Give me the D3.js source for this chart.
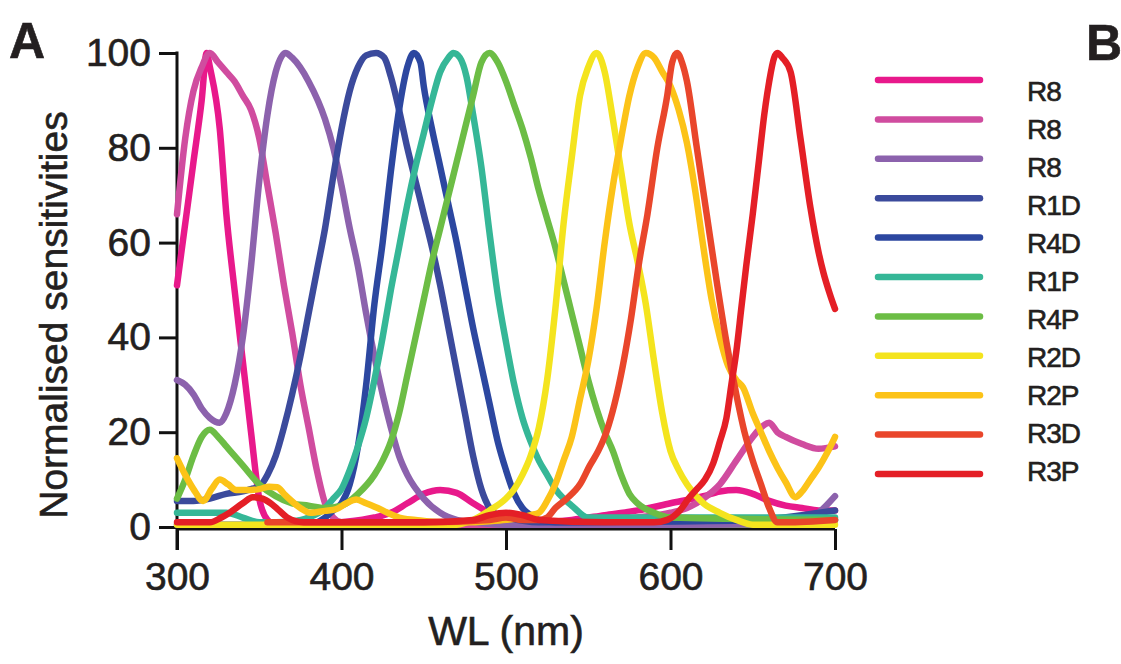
<!DOCTYPE html>
<html>
<head>
<meta charset="utf-8">
<script src="https://cdn.jsdelivr.net/npm/d3@7"></script>
<style>
  html, body { margin: 0; padding: 0; background: #fff; }
  svg text { font-family: 'Liberation Sans', Arial, sans-serif; fill: #231f20; stroke: #231f20; stroke-width: 0.6px; }
</style>
</head>
<body>
<div id="chart-area"></div>
<script>
// Photoreceptor sensitivity curves, [wavelength nm, normalised sensitivity]
const r8a = [[300,51],[305,64],[310,77],[315,90],[318,100],[320,97],[326,84],[330,66],[335,50],[340,35],[345,20],[350,6],[355,1.5],[360,0.5],[380,0.5],[400,1],[420,2],[430,3],[440,5],[450,7],[460,7.8],[470,7.2],[480,5],[490,3],[500,2],[520,1],[540,1.5],[560,2.5],[580,3.5],[600,5],[620,6.5],[630,7.5],[640,7.8],[650,7],[660,5.5],[670,4.5],[680,4],[690,3.5],[700,3.5]];
const r8b = [[300,66],[305,82],[310,92],[315,97],[320,100],[325,98],[330,96],[335,94],[340,91],[345,88],[350,82],[355,72],[360,62],[365,51],[370,41],[375,30],[380,21],[385,12],[390,5],[395,2],[400,1],[450,0.5],[500,0.5],[550,1],[580,2],[600,3],[610,4],[620,6],[630,9],[640,14],[650,19],[655,21],[660,22],[665,20],[670,19],[680,17.5],[690,16.5],[700,17]];
const r8c = [[300,31],[305,30],[310,28],[315,25],[320,23],[326,22],[330,24],[335,30],[340,40],[345,55],[350,73],[355,87],[360,96],[366,100],[370,99],[380,94],[390,86],[395,80],[400,72],[405,63],[410,55],[415,45],[420,36],[425,28],[430,21],[435,15],[440,11],[450,6],[460,3],[470,1.5],[480,1],[500,0.5],[600,0.5],[680,1],[690,3],[700,6.5]];
const r1d = [[300,5.5],[310,5.5],[320,6],[330,7],[340,7.5],[345,8],[350,8.5],[355,11],[360,15],[365,21],[370,28],[375,36],[380,45],[385,54],[390,63],[395,74],[400,84],[405,92],[410,97],[415,99.5],[421,100],[426,99],[430,95],[435,88],[440,80],[445,73],[450,66],[455,59],[460,51],[465,42],[470,33],[475,24],[480,15],[485,8],[490,4],[495,2.5],[500,2],[520,1],[650,1.5],[680,2.5],[700,3.5]];
const r4d = [[300,0.5],[380,0.5],[390,2],[395,3.5],[400,5],[405,9],[410,17],[415,30],[420,47],[425,60],[430,75],[435,88],[440,97],[444,100],[448,98],[450,93],[455,84],[460,76],[465,68],[470,60],[475,51],[480,42],[485,34],[490,26],[495,18],[500,12],[505,7],[510,4],[515,2.5],[520,1.5],[530,1],[700,1.5]];
const r1p = [[300,3],[310,3],[320,3],[330,3],[340,2],[350,1],[360,1],[370,1.2],[380,2],[390,4],[395,6],[400,8],[405,12],[410,17],[415,23],[420,31],[425,40],[430,50],[435,59],[440,68],[445,76],[450,83],[455,90],[460,96],[465,99],[468,100],[472,99],[476,95],[480,87],[485,76],[490,62],[495,49],[500,39],[505,30],[510,23],[515,18],[520,14],[525,11],[530,8],[535,6],[540,4.5],[550,2],[560,2],[700,2]];
const r4p = [[300,6],[305,10],[310,15],[315,19],[320,20.5],[325,19],[330,17],[335,15],[340,13],[350,9],[360,6.5],[370,5],[380,4.5],[390,4],[400,4.5],[410,7],[420,11],[425,14],[430,18],[435,24],[440,32],[445,40],[450,48],[455,56],[460,63],[465,70],[470,77],[475,84],[480,91],[485,98],[490,100],[495,98],[500,94],[505,89],[510,84],[515,78],[520,71],[525,65],[530,59],[535,52],[540,45],[545,38],[550,31],[555,25],[560,20],[565,16],[570,11],[575,7],[580,5],[590,3],[600,2],[700,1.5]];
const r2d = [[300,0.5],[470,0.5],[480,1.5],[490,3.5],[500,6],[505,8],[510,11],[515,15],[520,21],[525,31],[530,46],[535,64],[540,78],[545,91],[550,97],[555,100],[560,96],[565,86],[570,75],[575,64],[580,56],[585,47],[590,35],[595,24],[600,16],[605,12],[610,9],[620,5],[630,3],[640,1.5],[650,0.5],[700,0.5]];
const r2p = [[300,14.5],[305,11],[310,8],[316,5.5],[321,8],[326,10],[331,9],[336,7.8],[345,7.8],[350,8],[356,8.5],[361,8.4],[365,7],[369,5.7],[375,4],[381,3],[390,3.4],[397,3.8],[403,5],[409,5.8],[415,5],[422,4],[428,3],[435,2],[445,1.5],[460,1],[480,1],[490,1.2],[500,1.5],[510,2],[515,2.5],[520,3],[525,5.5],[530,9],[535,14],[540,19],[545,27],[550,35],[555,46],[560,60],[565,72],[570,82],[575,91],[580,97],[585,100],[590,99],[595,96],[600,93],[605,88],[610,81],[615,71],[620,59],[625,48],[630,40],[635,34],[640,31],[644,29.5],[650,24],[655,20],[660,16],[665,12.5],[670,9.5],[676,6.3],[680,7.5],[685,10],[690,12.5],[695,15.5],[700,19]];
const r3d = [[355,1],[400,1],[450,1],[490,1.5],[500,2],[510,1.5],[520,1.5],[525,2],[530,4],[537,6],[545,9],[551,13],[556,16],[561,20],[566,26],[571,34],[576,44],[581,56],[586,66],[592,80],[598,91],[601,98],[604,100],[607,98],[610,94],[616,80],[622,66],[628,52],[634,39],[640,28],[645,20],[650,14],[655,9],[660,4],[665,1],[670,1],[700,1.5]];
const r3p = [[300,1],[320,1],[327,2],[332,3],[340,5],[346,6.3],[352,6],[357,5],[362,3.5],[367,2],[377,1],[400,1],[450,1],[480,1.5],[490,2.5],[500,3],[510,2.5],[520,1.5],[560,1],[590,1],[598,1.5],[606,3.6],[611,6],[616,8],[621,10],[626,13.5],[630,18],[634,23],[637,30],[640,37],[643,46],[646,55],[650,66],[654,78],[657,87],[660,94],[663,99],[665,100],[668,99],[673,96],[679,82],[685,67.5],[690,58],[693,53.6],[697,49],[700,46]];

const seriesNames = ['R8', 'R8', 'R8', 'R1D', 'R4D', 'R1P', 'R4P', 'R2D', 'R2P', 'R3D', 'R3P'];
const seriesValues = [r8a, r8b, r8c, r1d, r4d, r1p, r4p, r2d, r2p, r3d, r3p];
const seriesColors = ['#e8198b', '#d04c9f', '#8c62ad', '#3b4a9c', '#2c47a0', '#35b797',
  '#6cbd45', '#f4e41e', '#fcc318', '#e9462b', '#e41f26'];

const xTicks = [300, 400, 500, 600, 700];
const yTicks = [0, 20, 40, 60, 80, 100];

const width = 1121;
const height = 664;

const svg = d3.select('#chart-area')
  .append('svg')
  .attr('width', width)
  .attr('height', height);

// Scales
const xScale = d3.scaleLinear().domain([300, 700]).range([177, 835]);
const yScale = d3.scaleLinear().domain([0, 100]).range([527, 53]);

// Axes
const yAxis = d3.axisLeft(yScale)
  .tickValues(yTicks)
  .tickSize(18)
  .tickPadding(8);
const xAxis = d3.axisBottom(xScale)
  .tickValues(xTicks)
  .tickSize(21)
  .tickPadding(12);

const gY = svg.append('g')
  .attr('transform', `translate(${xScale(300)}, 0)`)
  .call(yAxis);
const gX = svg.append('g')
  .attr('transform', `translate(0, ${yScale(0) + 2})`)
  .call(xAxis);

[gX, gY].forEach((g) => {
  g.select('.domain').remove();
  g.selectAll('line').attr('stroke', '#111').attr('stroke-width', 3);
  g.selectAll('text')
    .attr('fill', '#231f20')
    .style('font-size', '39px');
});

// y spine runs down to the x tick level
svg.append('line')
  .attr('x1', xScale(300)).attr('x2', xScale(300))
  .attr('y1', yScale(100) - 1.5).attr('y2', yScale(0) + 23)
  .attr('stroke', '#111').attr('stroke-width', 3);
svg.append('line')
  .attr('x1', xScale(300)).attr('x2', xScale(700))
  .attr('y1', yScale(0) + 2).attr('y2', yScale(0) + 2)
  .attr('stroke', '#111').attr('stroke-width', 3);

// Curves
const line = d3.line()
  .x((d) => xScale(d[0]))
  .y((d) => yScale(d[1]))
  .curve(d3.curveMonotoneX);

svg.append('g')
  .selectAll('path')
  .data(seriesValues)
  .enter()
  .append('path')
  .attr('d', line)
  .attr('fill', 'none')
  .attr('stroke', (d, i) => seriesColors[i])
  .attr('stroke-width', 6.5)
  .attr('stroke-linejoin', 'round')
  .attr('stroke-linecap', 'round');

// Axis titles
svg.append('text')
  .attr('transform', 'translate(67, 315) rotate(-90)')
  .attr('text-anchor', 'middle')
  .style('font-size', '39px')
  .text('Normalised sensitivities');

svg.append('text')
  .attr('x', 506)
  .attr('y', 645)
  .attr('text-anchor', 'middle')
  .style('font-size', '41px')
  .text('WL (nm)');

// Panel letters
svg.append('text')
  .attr('x', 9).attr('y', 58)
  .style('font-size', '50px').style('font-weight', 'bold')
  .text('A');
svg.append('text')
  .attr('x', 1086).attr('y', 60)
  .style('font-size', '50px').style('font-weight', 'bold')
  .text('B');

// Legend
const legendRows = svg.append('g')
  .selectAll('g')
  .data(seriesNames)
  .enter()
  .append('g');

legendRows.append('line')
  .attr('x1', 878).attr('x2', 980)
  .attr('y1', (d, i) => 80 + i * 39.4)
  .attr('y2', (d, i) => 80 + i * 39.4)
  .attr('stroke', (d, i) => seriesColors[i])
  .attr('stroke-width', 6.5)
  .attr('stroke-linecap', 'round');

legendRows.append('text')
  .attr('x', 1027)
  .attr('y', (d, i) => 101 + i * 38)
  .style('font-size', '28px')
  .style('letter-spacing', '-1px')
  .text((d) => d);
</script>
</body>
</html>
